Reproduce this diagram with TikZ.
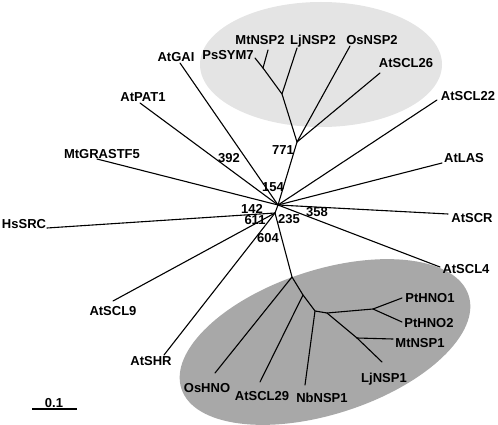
\documentclass[tikz,border=0pt]{standalone}
\usepackage{fontspec}
\setmainfont{Liberation Sans}
\begin{document}
\begin{tikzpicture}[x=1pt,y=-1pt,
  br/.style={line width=1.1pt,line cap=round,line join=round},
  lab/.style={font=\fontsize{13}{13}\selectfont\bfseries,inner sep=0pt,anchor=base},
  bs/.style={font=\fontsize{13}{13}\selectfont\bfseries,inner sep=0pt,anchor=base}]
\definecolor{upgray}{RGB}{228,228,228}
\definecolor{lowgray}{RGB}{168,168,168}
\useasboundingbox (0,0) rectangle (498,425);
% clade shading
\fill[upgray] (321,64.5) ellipse [x radius=121pt, y radius=62.5pt];
\fill[lowgray, rotate around={18:(325,342)}] (325,342) ellipse [x radius=151pt, y radius=72pt];
% internal coordinates
\coordinate (N1) at (278,205);
\coordinate (N2) at (275,213);
\coordinate (D) at (297,142);
\coordinate (B) at (282,94);
\coordinate (A) at (263,68);
\coordinate (L1) at (292,277);
\coordinate (L2) at (303,295);
\coordinate (L3) at (315,311);
\coordinate (L4) at (327,313);
\coordinate (L5) at (373,309);
\coordinate (L6) at (357,338);
% leaf ends
\coordinate (eAtGAI) at (180,63);
\coordinate (ePsSYM7) at (255,58);
\coordinate (eMtNSP2) at (268,50);
\coordinate (eLjNSP2) at (297,48);
\coordinate (eOsNSP2) at (350,46);
\coordinate (eAtSCL26) at (380,73);
\coordinate (eAtSCL22) at (437,100);
\coordinate (eAtLAS) at (442,163);
\coordinate (eAtSCR) at (448,214);
\coordinate (eAtSCL4) at (440,267);
\coordinate (eAtPAT1) at (140,103);
\coordinate (eMtGRASTF5) at (97,159);
\coordinate (eHsSRC) at (47,228);
\coordinate (eAtSCL9) at (113,301);
\coordinate (eAtSHR) at (164,355);
\coordinate (eOsHNO) at (215,373);
\coordinate (eAtSCL29) at (260,382);
\coordinate (eNbNSP1) at (305,385);
\coordinate (eLjNSP1) at (382,362);
\coordinate (eMtNSP1) at (393,339);
\coordinate (ePtHNO2) at (402,322);
\coordinate (ePtHNO1) at (402,298);
% branches
\draw[br] (N1) -- (N2);
\draw[br] (N1) -- (D) -- (B) -- (A) -- (ePsSYM7);
\draw[br] (A) -- (eMtNSP2);
\draw[br] (B) -- (eLjNSP2);
\draw[br] (D) -- (eOsNSP2);
\draw[br] (D) -- (eAtSCL26);
\draw[br] (N1) -- (eAtGAI);
\draw[br] (N1) -- (eAtPAT1);
\draw[br] (N1) -- (eMtGRASTF5);
\draw[br] (N1) -- (eAtSCL22);
\draw[br] (N1) -- (eAtLAS);
\draw[br] (N1) -- (eAtSCR);
\draw[br] (N1) -- (eAtSCL4);
\draw[br] (N2) -- (eHsSRC);
\draw[br] (N2) -- (eAtSCL9);
\draw[br] (N2) -- (eAtSHR);
\draw[br] (N2) -- (L1) -- (L2) -- (L3) -- (L4) -- (L6) -- (eLjNSP1);
\draw[br] (L1) -- (eOsHNO);
\draw[br] (L2) -- (eAtSCL29);
\draw[br] (L3) -- (eNbNSP1);
\draw[br] (L4) -- (L5) -- (ePtHNO1);
\draw[br] (L5) -- (ePtHNO2);
\draw[br] (L6) -- (eMtNSP1);
% leaf labels
\node[lab] (tAtGAI) at (176,62) {AtGAI};
\node[lab] (tPsSYM7) at (228,60) {PsSYM7};
\node[lab] (tMtNSP2) at (260,45) {MtNSP2};
\node[lab] (tLjNSP2) at (313,45) {LjNSP2};
\node[lab] (tOsNSP2) at (372,45) {OsNSP2};
\node[lab] (tAtSCL26) at (406,68) {AtSCL26};
\node[lab] (tAtSCL22) at (468,101) {AtSCL22};
\node[lab] (tAtLAS) at (464,163) {AtLAS};
\node[lab] (tAtSCR) at (472,222) {AtSCR};
\node[lab] (tAtSCL4) at (466,273) {AtSCL4};
\node[lab] (tAtPAT1) at (143,102) {AtPAT1};
\node[lab] (tMtGRASTF5) at (102,158) {MtGRASTF5};
\node[lab] (tHsSRC) at (24,228) {HsSRC};
\node[lab] (tAtSCL9) at (113,315) {AtSCL9};
\node[lab] (tAtSHR) at (151,365) {AtSHR};
\node[lab] (tOsHNO) at (207,392) {OsHNO};
\node[lab] (tAtSCL29) at (262,400) {AtSCL29};
\node[lab] (tNbNSP1) at (322,402) {NbNSP1};
\node[lab] (tLjNSP1) at (384,382) {LjNSP1};
\node[lab] (tMtNSP1) at (420,347) {MtNSP1};
\node[lab] (tPtHNO2) at (429,327) {PtHNO2};
\node[lab] (tPtHNO1) at (430,302) {PtHNO1};
% bootstrap values
\node[bs] (b771) at (283,155) {771};
\node[bs] (b392) at (229,163) {392};
\node[bs] (b154) at (273,191) {154};
\node[bs] (b142) at (252,213) {142};
\node[bs] (b611) at (255,224.5) {611};
\node[bs] (b235) at (289,223) {235};
\node[bs] (b358) at (317,216) {358};
\node[bs] (b604) at (268,242) {604};
% scale bar
\coordinate (sb1) at (32,409);
\coordinate (sb2) at (77,409);
\draw[line width=1.1pt] (sb1) -- (sb2);
\node[bs] (sbl) at (54,407) {0.1};
\end{tikzpicture}
\end{document}
